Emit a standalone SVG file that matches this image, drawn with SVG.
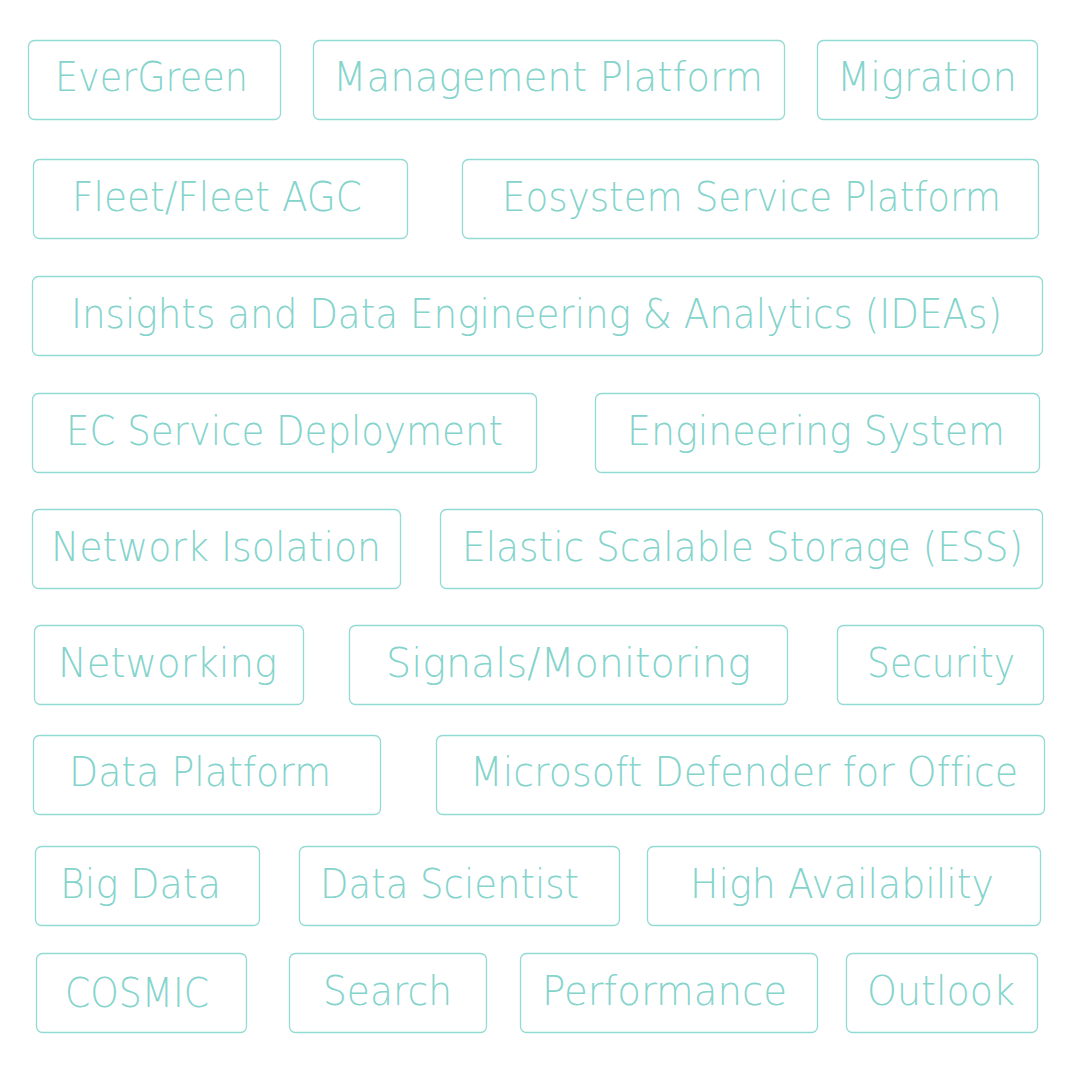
<svg xmlns="http://www.w3.org/2000/svg" width="1080" height="1077" viewBox="0 0 1080 1077">
<style>
.b{fill:#ffffff;stroke:#92dad4;stroke-width:1.3}
.t{font-family:"DejaVu Sans","Liberation Sans",sans-serif;font-weight:200;font-size:40px;fill:#84d4cc;font-variant-ligatures:none;font-feature-settings:"liga" 0}
</style>
<rect width="1080" height="1077" fill="#ffffff"/>
<g id="n-evergreen"><rect class="b" x="28.5" y="40.5" width="252" height="79" rx="6"/><text class="t" x="55" y="91" textLength="193" lengthAdjust="spacingAndGlyphs">EverGreen</text></g>
<g id="n-management"><rect class="b" x="313.5" y="40.5" width="471" height="79" rx="6"/><text class="t" x="333" y="91" textLength="430" lengthAdjust="spacingAndGlyphs">Management Platform</text></g>
<g id="n-migration"><rect class="b" x="817.5" y="40.5" width="220" height="79" rx="6"/><text class="t" x="837" y="91" textLength="180" lengthAdjust="spacingAndGlyphs">Migration</text></g>

<g id="n-fleet"><rect class="b" x="33.5" y="159.5" width="374" height="79" rx="6"/><text class="t" x="72" y="211" textLength="290" lengthAdjust="spacingAndGlyphs">Fleet/Fleet AGC</text></g>
<g id="n-eosystem"><rect class="b" x="462.5" y="159.5" width="576" height="79" rx="6"/><text class="t" x="502" y="211" textLength="499" lengthAdjust="spacingAndGlyphs">Eosystem Service Platform</text></g>

<g id="n-ideas"><rect class="b" x="32.5" y="276.5" width="1010" height="79" rx="6"/><text class="t" x="71" y="328" textLength="931" lengthAdjust="spacingAndGlyphs">Insights and Data Engineering &amp; Analytics (IDEAs)</text></g>

<g id="n-ecservice"><rect class="b" x="32.5" y="393.5" width="504" height="79" rx="6"/><text class="t" x="66" y="445" textLength="437" lengthAdjust="spacingAndGlyphs">EC Service Deployment</text></g>
<g id="n-engsystem"><rect class="b" x="595.5" y="393.5" width="444" height="79" rx="6"/><text class="t" x="627" y="445" textLength="378" lengthAdjust="spacingAndGlyphs">Engineering System</text></g>

<g id="n-netiso"><rect class="b" x="32.5" y="509.5" width="368" height="79" rx="6"/><text class="t" x="51" y="561" textLength="330" lengthAdjust="spacingAndGlyphs">Network Isolation</text></g>
<g id="n-ess"><rect class="b" x="440.5" y="509.5" width="602" height="79" rx="6"/><text class="t" x="462" y="561" textLength="561" lengthAdjust="spacingAndGlyphs">Elastic Scalable Storage (ESS)</text></g>

<g id="n-networking"><rect class="b" x="34.5" y="625.5" width="269" height="79" rx="6"/><text class="t" x="58" y="677" textLength="219" lengthAdjust="spacingAndGlyphs">Networking</text></g>
<g id="n-signals"><rect class="b" x="349.5" y="625.5" width="438" height="79" rx="6"/><text class="t" x="386" y="677" textLength="365" lengthAdjust="spacingAndGlyphs">Signals/Monitoring</text></g>
<g id="n-security"><rect class="b" x="837.5" y="625.5" width="206" height="79" rx="6"/><text class="t" x="867" y="677" textLength="148" lengthAdjust="spacingAndGlyphs">Security</text></g>

<g id="n-dataplatform"><rect class="b" x="33.5" y="735.5" width="347" height="79" rx="6"/><text class="t" x="69" y="786" textLength="262" lengthAdjust="spacingAndGlyphs">Data Platform</text></g>
<g id="n-defender"><rect class="b" x="436.5" y="735.5" width="608" height="79" rx="6"/><text class="t" x="470" y="786" textLength="548" lengthAdjust="spacingAndGlyphs">Microsoft Defender for Office</text></g>

<g id="n-bigdata"><rect class="b" x="35.5" y="846.5" width="224" height="79" rx="6"/><text class="t" x="60" y="898" textLength="161" lengthAdjust="spacingAndGlyphs">Big Data</text></g>
<g id="n-datascientist"><rect class="b" x="299.5" y="846.5" width="320" height="79" rx="6"/><text class="t" x="320" y="898" textLength="259" lengthAdjust="spacingAndGlyphs">Data Scientist</text></g>
<g id="n-ha"><rect class="b" x="647.5" y="846.5" width="393" height="79" rx="6"/><text class="t" x="690" y="898" textLength="304" lengthAdjust="spacingAndGlyphs">High Availability</text></g>

<g id="n-cosmic"><rect class="b" x="36.5" y="953.5" width="210" height="79" rx="6"/><text class="t" x="65" y="1007" textLength="144" lengthAdjust="spacingAndGlyphs">COSMIC</text></g>
<g id="n-search"><rect class="b" x="289.5" y="953.5" width="197" height="79" rx="6"/><text class="t" x="323" y="1005" textLength="129" lengthAdjust="spacingAndGlyphs">Search</text></g>
<g id="n-performance"><rect class="b" x="520.5" y="953.5" width="297" height="79" rx="6"/><text class="t" x="542" y="1005" textLength="245" lengthAdjust="spacingAndGlyphs">Performance</text></g>
<g id="n-outlook"><rect class="b" x="846.5" y="953.5" width="191" height="79" rx="6"/><text class="t" x="867" y="1005" textLength="148" lengthAdjust="spacingAndGlyphs">Outlook</text></g>
<g id="connectors"/>
</svg>
